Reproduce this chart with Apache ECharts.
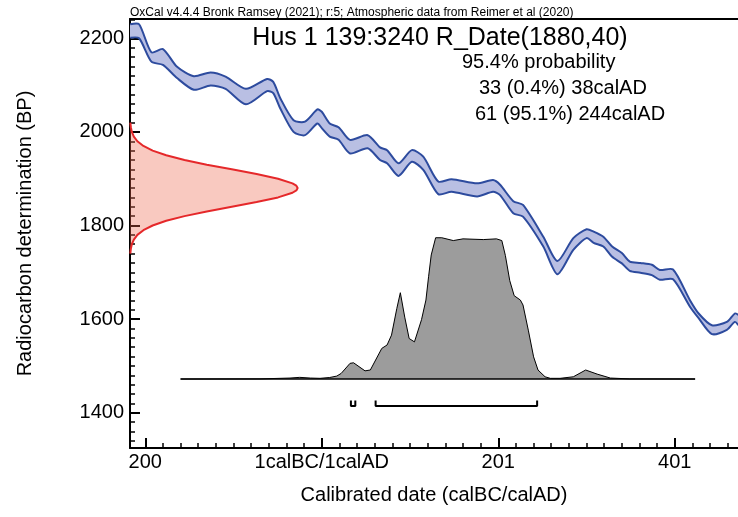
<!DOCTYPE html>
<html>
<head>
<meta charset="utf-8">
<script src="https://cdn.jsdelivr.net/npm/echarts@6.0.0/dist/echarts.min.js"></script>
<style>
html, body { margin: 0; padding: 0; background: #fff; }
#main { width: 738px; height: 517px; }
</style>
</head>
<body>
<div id="main"></div>
<script>
// calibration curve (year AD, 0 = 1calBC/1calAD boundary), 1 sigma band in BP
var calYear  = [-217, -207, -193, -180, -164, -145, -126, -109, -86, -62, -55, -47, -32, -19, -5, 0, 9, 19, 32, 52, 66, 74, 87, 102, 115, 132, 147, 176, 194, 202, 217, 228, 251, 267, 285, 300, 308, 319, 329, 340, 349, 361, 374, 383, 398, 417, 427, 442, 459, 468, 472];
var calUpper = [2230, 2230, 2170, 2177, 2139, 2119, 2127, 2118, 2092, 2113, 2107, 2072, 2025, 2022, 2048, 2043, 2018, 2010, 1983, 1993, 1967, 1961, 1933, 1961, 1947, 1894, 1899, 1890, 1897, 1887, 1852, 1844, 1776, 1724, 1773, 1792, 1787, 1776, 1755, 1741, 1723, 1720, 1716, 1705, 1706, 1641, 1612, 1587, 1594, 1612, 1609];
var calLower = [2201, 2200, 2150, 2143, 2115, 2090, 2099, 2092, 2059, 2087, 2083, 2050, 2000, 1993, 2018, 2008, 1990, 1983, 1954, 1965, 1940, 1933, 1906, 1936, 1919, 1867, 1872, 1862, 1872, 1865, 1826, 1819, 1755, 1696, 1748, 1773, 1763, 1755, 1733, 1719, 1703, 1699, 1694, 1684, 1685, 1627, 1602, 1568, 1577, 1594, 1587];

// radiocarbon determination 1880 +/- 40 BP (relative density)
var radioBP      = [1740, 1750, 1760, 1770, 1780, 1790, 1800, 1810, 1820, 1830, 1840, 1850, 1860, 1870, 1875, 1880, 1885, 1890, 1900, 1910, 1920, 1930, 1940, 1950, 1960, 1970, 1980, 1990, 2000, 2010, 2020];
var radioDensity = [0.002, 0.005, 0.011, 0.023, 0.044, 0.080, 0.135, 0.216, 0.325, 0.458, 0.607, 0.755, 0.883, 0.969, 0.992, 1.0, 0.992, 0.969, 0.883, 0.755, 0.607, 0.458, 0.325, 0.216, 0.135, 0.080, 0.044, 0.023, 0.011, 0.005, 0.002];

// calibrated probability (relative)
var probYear  = [-160, -70, -36, -25, -13, -2, 9, 17, 22, 32, 36, 49, 55, 68, 74, 79, 85, 89, 94, 99, 105, 113, 118, 121, 124, 129, 136, 149, 160, 183, 198, 204, 208, 213, 218, 225, 228, 234, 240, 245, 253, 259, 270, 285, 299, 312, 327, 349, 423];
var probValue = [0, 0.001, 0.007, 0.012, 0.007, 0.005, 0.011, 0.021, 0.04, 0.111, 0.115, 0.058, 0.064, 0.217, 0.241, 0.311, 0.499, 0.611, 0.438, 0.287, 0.263, 0.42, 0.559, 0.724, 0.878, 1.0, 1.0, 0.98, 0.992, 0.987, 0.992, 0.98, 0.875, 0.696, 0.59, 0.559, 0.524, 0.346, 0.157, 0.064, 0.016, 0.005, 0.005, 0.016, 0.064, 0.035, 0.007, 0.001, 0];

// 95.4% ranges
var rangeFrom = [33, 61];
var rangeTo   = [38, 244];
var rangeText = ['33 (0.4%) 38calAD', '61 (95.1%) 244calAD'];

var xTickValues = [-200, 0, 200, 400];
var xTickLabels = ['200', '1calBC/1calAD', '201', '401'];
var yTickValues = [1400, 1600, 1800, 2000, 2200];

var xMin = -217.3, xMax = 471.6;
var yMin = 1324.6, yMax = 2241.2;
var pMin = -0.488, pMax = 2.548;   // probability axis, 0 sits on the baseline
var dMax = 3.626;                  // density axis for the red curve

var xMinor = [];
for (var v = -200; v <= 460; v += 20) xMinor.push(v);
var yMinor = [];
for (var w = 1340; w <= 2240; w += 20) yMinor.push(w);

var font = "'Liberation Sans', Arial, sans-serif";

function zip(a, b) {
    var out = [];
    for (var i = 0; i < a.length; i++) out.push([a[i], b[i]]);
    return out;
}

var bracketData = [];
for (var r = 0; r < rangeFrom.length; r++) {
    bracketData.push([rangeFrom[r], -0.151], [rangeFrom[r], -0.191], [rangeTo[r], -0.191], [rangeTo[r], -0.151], null);
}
bracketData.pop();

var myChart = echarts.init(document.getElementById('main'));

var option = {
    animation: false,
    backgroundColor: '#fff',
    grid: { left: 130, right: 0, top: 19, bottom: 69, containLabel: false, outerBoundsMode: 'none' },
    xAxis: [
        {
            type: 'value', position: 'bottom', min: xMin, max: xMax,
            axisLine: { onZero: false, lineStyle: { color: '#000', width: 2 } },
            axisTick: { inside: true, length: 10, customValues: xTickValues, lineStyle: { color: '#000', width: 2 } },
            axisLabel: {
                customValues: xTickValues, color: '#000', fontSize: 20, fontFamily: font, margin: 4,
                formatter: function (val) { return xTickLabels[xTickValues.indexOf(val)]; }
            },
            splitLine: { show: false },
            name: 'Calibrated date (calBC/calAD)', nameLocation: 'middle', nameGap: 37,
            nameTextStyle: { color: '#000', fontSize: 20, fontFamily: font }
        },
        {
            type: 'value', position: 'bottom', min: xMin, max: xMax,
            axisLine: { show: false, onZero: false },
            axisTick: { inside: true, length: 5, customValues: xMinor, lineStyle: { color: '#000', width: 1.5 } },
            axisLabel: { show: false },
            splitLine: { show: false }
        },
        {
            type: 'value', position: 'top', min: 0, max: dMax,
            axisLine: { onZero: false, lineStyle: { color: '#000', width: 2 } },
            axisTick: { show: false }, axisLabel: { show: false }, splitLine: { show: false }
        }
    ],
    yAxis: [
        {
            type: 'value', position: 'left', min: yMin, max: yMax,
            axisLine: { onZero: false, lineStyle: { color: '#000', width: 2 } },
            axisTick: { inside: true, length: 10, customValues: yTickValues, lineStyle: { color: '#000', width: 2 } },
            axisLabel: {
                customValues: yTickValues, color: '#000', fontSize: 20, fontFamily: font, margin: 6,
                formatter: function (val) { return String(val); }
            },
            splitLine: { show: false },
            name: 'Radiocarbon determination (BP)', nameLocation: 'middle', nameGap: 95,
            nameTextStyle: { color: '#000', fontSize: 20, fontFamily: font }
        },
        {
            type: 'value', position: 'left', min: yMin, max: yMax,
            axisLine: { show: false, onZero: false },
            axisTick: { inside: true, length: 5, customValues: yMinor, lineStyle: { color: '#000', width: 1.5 } },
            axisLabel: { show: false },
            splitLine: { show: false }
        },
        { type: 'value', show: false, min: pMin, max: pMax, axisLine: { onZero: false }, splitLine: { show: false } }
    ],
    series: [
        {
            // calibration band: fill plus its two edges
            type: 'custom', xAxisIndex: 0, yAxisIndex: 0, clip: true, silent: true, z: 1,
            data: [[calYear[0], calUpper[0]]],
            renderItem: function (params, api) {
                if (params.dataIndex !== 0) return null;
                var up = [], lo = [];
                for (var i = 0; i < calYear.length; i++) {
                    up.push(api.coord([calYear[i], calUpper[i]]));
                    lo.push(api.coord([calYear[i], calLower[i]]));
                }
                var ring = up.concat(lo.slice().reverse());
                return {
                    type: 'group',
                    children: [
                        { type: 'polygon', shape: { points: ring, smooth: 0.25 }, style: { fill: '#b9bfe3' } },
                        { type: 'polyline', shape: { points: up, smooth: 0.25 }, style: { stroke: '#2d4b9e', lineWidth: 2, fill: null } },
                        { type: 'polyline', shape: { points: lo, smooth: 0.25 }, style: { stroke: '#2d4b9e', lineWidth: 2, fill: null } }
                    ]
                };
            }
        },
        {
            // calibrated distribution
            type: 'line', xAxisIndex: 0, yAxisIndex: 2, data: zip(probYear, probValue),
            showSymbol: false, silent: true, z: 3,
            lineStyle: { color: '#000', width: 1 },
            areaStyle: { color: '#9c9c9c', opacity: 1, origin: 0 }
        },
        {
            type: 'line', xAxisIndex: 0, yAxisIndex: 2,
            data: [[probYear[0], 0], [probYear[probYear.length - 1], 0]],
            showSymbol: false, silent: true, z: 4,
            lineStyle: { color: '#000', width: 1.5 }
        },
        {
            // 95.4% range brackets
            type: 'line', xAxisIndex: 0, yAxisIndex: 2, data: bracketData,
            showSymbol: false, silent: true, z: 4, connectNulls: false,
            lineStyle: { color: '#000', width: 2 }
        },
        {
            // radiocarbon determination fill
            type: 'custom', xAxisIndex: 2, yAxisIndex: 0, clip: true, silent: true, z: 5,
            data: [[radioDensity[0], radioBP[0]]],
            renderItem: function (params, api) {
                if (params.dataIndex !== 0) return null;
                var pts = [api.coord([0, radioBP[0]])];
                for (var i = 0; i < radioBP.length; i++) pts.push(api.coord([radioDensity[i], radioBP[i]]));
                pts.push(api.coord([0, radioBP[radioBP.length - 1]]));
                return { type: 'polygon', shape: { points: pts }, style: { fill: 'rgba(238,100,75,0.35)' } };
            }
        },
        {
            type: 'line', xAxisIndex: 2, yAxisIndex: 0, data: zip(radioDensity, radioBP),
            showSymbol: false, silent: true, z: 6,
            lineStyle: { color: '#e5282a', width: 2 }
        }
    ],
    graphic: [
        {
            type: 'text', x: 130, y: 13,
            style: { text: 'OxCal v4.4.4 Bronk Ramsey (2021); r:5; Atmospheric data from Reimer et al (2020)',
                     font: '12px ' + font, fill: '#000', align: 'left', verticalAlign: 'middle' }
        },
        {
            type: 'text', x: 440, y: 38,
            style: { text: 'Hus 1 139:3240 R_Date(1880,40)', font: '25px ' + font, fill: '#000', align: 'center', verticalAlign: 'middle' }
        },
        {
            type: 'text', x: 462, y: 62,
            style: { text: '95.4% probability', font: '20px ' + font, fill: '#000', align: 'left', verticalAlign: 'middle' }
        },
        {
            type: 'text', x: 479, y: 88,
            style: { text: rangeText[0], font: '20px ' + font, fill: '#000', align: 'left', verticalAlign: 'middle' }
        },
        {
            type: 'text', x: 475, y: 114,
            style: { text: rangeText[1], font: '20px ' + font, fill: '#000', align: 'left', verticalAlign: 'middle' }
        }
    ]
};

myChart.setOption(option);
</script>
</body>
</html>
